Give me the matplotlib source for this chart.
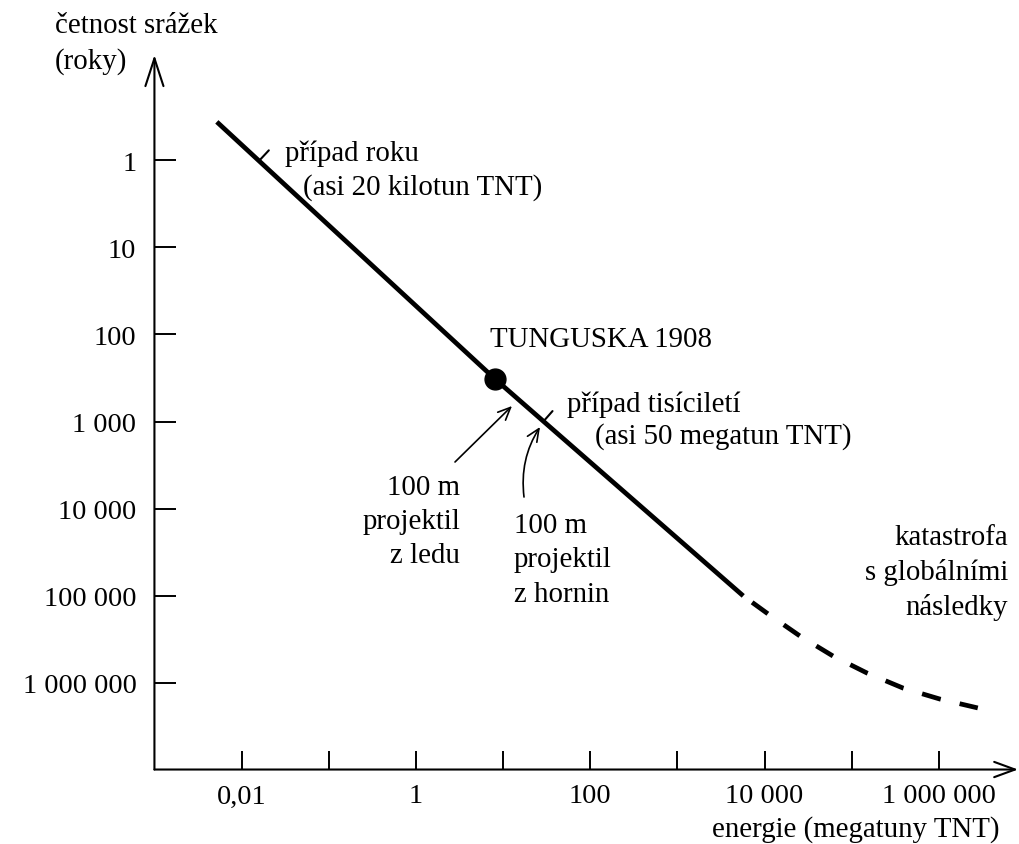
import matplotlib.pyplot as plt
from matplotlib.ticker import NullLocator

plt.rcParams['font.family'] = ['Liberation Serif', 'DejaVu Serif']
plt.rcParams['font.size'] = 20

# solid part of the curve: energy (Mt TNT) vs. mean interval (years)
solid_energy = [0.0052, 8.1, 5700]
solid_years = [0.36, 325, 101000]

# dashed extrapolation
dashed_energy = [5700, 11000, 25500, 61000, 150000, 390000, 1030000, 2800000]
dashed_years = [101000, 163000, 292000, 496000, 778000, 1160000, 1550000, 1960000]

tunguska_energy = 8.1
tunguska_years = 325

# "případ roku" and "případ tisíciletí" marks on the line
event_energy = [0.016, 29]
event_years = [1, 1000]

x_ticks = [0.01, 0.1, 1, 10, 100, 1000, 1e4, 1e5, 1e6]
x_labels = ['0,01', '', '1', '', '100', '', '10 000', '', '1 000 000']
y_ticks = [1, 10, 100, 1000, 1e4, 1e5, 1e6]
y_labels = ['1', '10', '100', '1 000', '10 000', '100 000', '1 000 000']

W, H = 1019, 845
fig = plt.figure(figsize=(W / 100, H / 100), dpi=100)
ax = fig.add_axes([0, 0, 1, 1])
ax.set_xscale('log')
ax.set_yscale('log')
ax.set_xlim(10 ** -4.772, 10 ** 6.920)
ax.set_ylim(10 ** 7.856, 10 ** -1.856)

# axes cross at 0.001 Mt / 10^7 years
for s in ['top', 'right']:
    ax.spines[s].set_visible(False)
ax.spines['left'].set_position(('data', 1e-3))
ax.spines['bottom'].set_position(('data', 1e7))
ax.spines['left'].set_visible(False)
ax.spines['bottom'].set_visible(False)

ax.set_xticks(x_ticks, x_labels)
ax.set_yticks(y_ticks, y_labels)
ax.xaxis.set_minor_locator(NullLocator())
ax.yaxis.set_minor_locator(NullLocator())
ax.tick_params(axis='x', direction='in', length=14, width=1.4, pad=10, labelsize=20.5)
ax.tick_params(axis='y', direction='in', length=15.5, width=1.4, pad=13, labelsize=20.5)

# axis lines with open arrow heads
ax.annotate('', xy=(10 ** 6.909, 1e7), xytext=(1e-3, 1e7),
            arrowprops=dict(arrowstyle='->,head_length=15,head_width=5.5', lw=1.5,
                            color='black', shrinkA=0, shrinkB=0, mutation_scale=1))
ax.annotate('', xy=(1e-3, 10 ** -1.213), xytext=(1e-3, 1e7),
            arrowprops=dict(arrowstyle='->,head_length=20,head_width=6.5', lw=1.5,
                            color='black', shrinkA=0, shrinkB=0, mutation_scale=1))

# curve
ax.plot(solid_energy, solid_years, color='black', lw=3.4, solid_capstyle='butt')
ax.plot(dashed_energy, dashed_years, color='black', lw=3.4,
        linestyle=(5.89, (4.11, 4.11)), dash_capstyle='butt')
ax.plot([tunguska_energy], [tunguska_years], 'o', color='black', ms=15)

# small perpendicular marks on the line
for e, t, off in zip(event_energy, event_years, [(6.8, 7.3), (6.6, 7.5)]):
    ax.annotate('', xy=(e, t), xytext=off, textcoords='offset points',
                arrowprops=dict(arrowstyle='-', lw=1.5, color='black', shrinkA=0, shrinkB=0))


def label(x, y, lines, ha='left', step=34.5):
    for i, s in enumerate(lines):
        fig.text(x / W, 1 - (y + i * step) / H, s, ha=ha, va='baseline', fontsize=20.8)


label(55, 33, ['četnost srážek', '(roky)'], step=36)
label(285, 161, ['případ roku'])
label(303, 195, ['(asi 20 kilotun TNT)'])
label(490, 347, ['TUNGUSKA 1908'])
label(567, 412, ['případ tisíciletí'])
label(595, 444, ['(asi 50 megatun TNT)'])
label(460, 495, ['100 m', 'projektil', 'z ledu'], ha='right', step=34)
label(514, 533, ['100 m', 'projektil', 'z hornin'])
label(1008, 545, ['katastrofa', 's globálními', 'následky'], ha='right', step=35)
label(1000, 837, ['energie (megatuny TNT)'], ha='right')

# pointers from the projectile notes to the line
ax.annotate('', xy=(512, H - 407), xytext=(455, H - 463),
            xycoords='figure pixels', textcoords='figure pixels',
            arrowprops=dict(arrowstyle='->,head_length=9,head_width=4', lw=1.2,
                            color='black', shrinkA=0, shrinkB=0, mutation_scale=1))
ax.annotate('', xy=(540, H - 428), xytext=(524, H - 498),
            xycoords='figure pixels', textcoords='figure pixels',
            arrowprops=dict(arrowstyle='->,head_length=9,head_width=4', lw=1.2,
                            color='black', shrinkA=0, shrinkB=0, mutation_scale=1,
                            connectionstyle='arc3,rad=-0.18'))

fig.savefig('out.png', dpi=100)
